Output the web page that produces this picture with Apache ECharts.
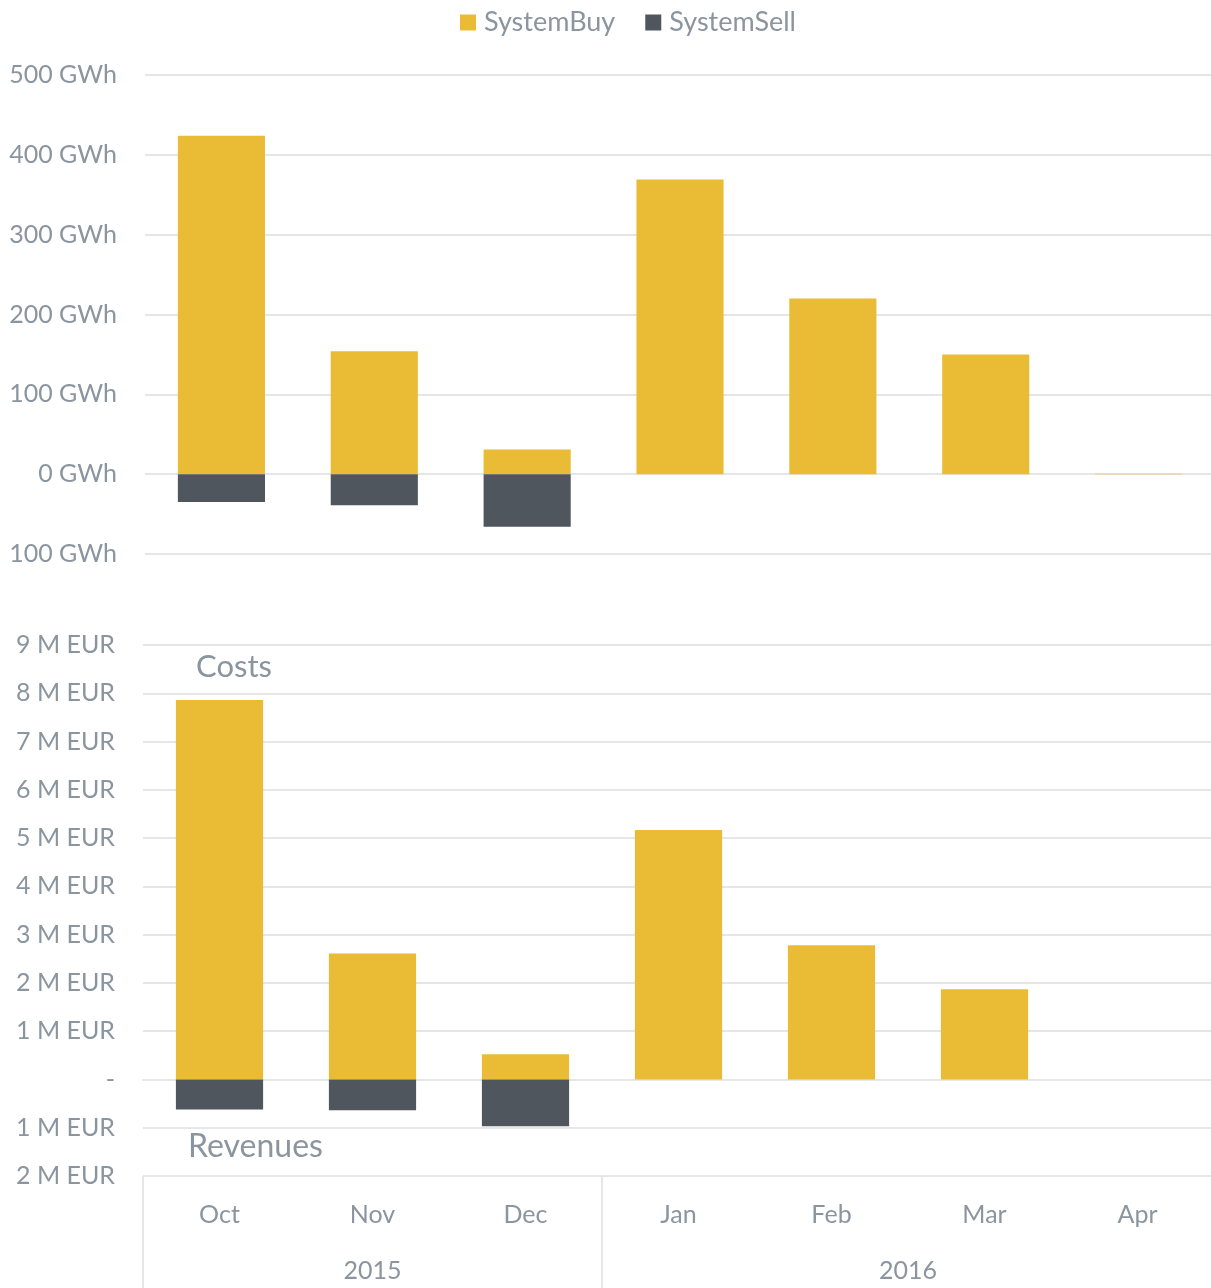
<!DOCTYPE html>
<html>
<head>
<meta charset="utf-8">
<script src="https://cdn.jsdelivr.net/npm/echarts@6/dist/echarts.min.js"></script>
<style>
  html, body { margin: 0; padding: 0; background: #fff; }
  #chart { width: 1211px; height: 1288px; }
</style>
</head>
<body>
<div id="chart"></div>
<script>
// categories
const months = ['Oct', 'Nov', 'Dec', 'Jan', 'Feb', 'Mar', 'Apr'];
const years = ['2015', '2016'];
// energy volumes, GWh
const buyGWh = [424, 154, 31, 369, 220, 150, 0.5];
const sellGWh = [-35, -39, -66, null, null, null, null];
// money, M EUR
const buyEUR = [7.86, 2.61, 0.52, 5.17, 2.78, 1.87, null];
const sellEUR = [-0.62, -0.64, -0.97, null, null, null, null];

const gold = '#EABC36';
const dark = '#4F565E';
const txt = '#8A959F';
const gridCol = '#E4E6E7';
const font = 'Lato';

const chart = echarts.init(document.getElementById('chart'));

const option = {
    backgroundColor: '#fff',
    textStyle: { fontFamily: font },
    animation: false,
    legend: {
        top: 4,
        left: 455,
        itemWidth: 16,
        itemHeight: 16,
        itemGap: 30,
        icon: 'rect',
        textStyle: { color: txt, fontSize: 27, fontFamily: font, padding: [0, 0, 0, 3] },
        data: ['SystemBuy', 'SystemSell']
    },
    grid: [
        { left: 145, width: 1070, top: 75, height: 479, outerBoundsMode: 'none' },
        { left: 143, width: 1071, top: 645, height: 531, outerBoundsMode: 'none' }
    ],
    xAxis: [
        {
            gridIndex: 0, type: 'category', data: months,
            axisLine: { show: false }, axisTick: { show: false }, axisLabel: { show: false }
        },
        {
            gridIndex: 1, type: 'category', data: months, position: 'bottom',
            axisLine: { show: true, lineStyle: { color: gridCol, width: 2 } },
            axisTick: { show: false },
            axisLabel: { color: txt, fontSize: 25, margin: 26 }
        },
        {
            // year grouping under the months
            gridIndex: 1, type: 'value', min: 0, max: 7, position: 'bottom',
            axisLine: { show: false },
            splitLine: { show: false },
            axisTick: { show: true, length: 112, customValues: [0, 3, 7], lineStyle: { color: gridCol, width: 2 } },
            axisLabel: {
                color: txt, fontSize: 25, margin: 82,
                customValues: [1.5, 5],
                formatter: v => (v === 1.5 ? years[0] : v === 5 ? years[1] : '')
            }
        }
    ],
    yAxis: [
        {
            gridIndex: 0, type: 'value', min: -100, max: 500, interval: 100,
            axisLine: { show: false }, axisTick: { show: false },
            splitLine: { lineStyle: { color: gridCol, width: 2 } },
            axisLabel: { color: txt, fontSize: 25, margin: 28, formatter: v => Math.abs(v) + ' GWh' }
        },
        {
            gridIndex: 1, type: 'value', min: -2, max: 9, interval: 1,
            axisLine: { show: false }, axisTick: { show: false },
            splitLine: { lineStyle: { color: gridCol, width: 2 } },
            axisLabel: {
                color: txt, fontSize: 25, margin: 28,
                formatter: v => (v === 0 ? '-' : Math.abs(v) + ' M EUR')
            }
        }
    ],
    graphic: [
        { type: 'text', left: 196, top: 651, style: { text: 'Costs', fill: txt, fontSize: 31, fontFamily: font } },
        { type: 'text', left: 188, top: 1131, style: { text: 'Revenues', fill: txt, fontSize: 32, fontFamily: font } }
    ],
    series: [
        {
            name: 'SystemBuy', type: 'bar', xAxisIndex: 0, yAxisIndex: 0, stack: 'gwh',
            barWidth: '57%', itemStyle: { color: gold }, data: buyGWh
        },
        {
            name: 'SystemSell', type: 'bar', xAxisIndex: 0, yAxisIndex: 0, stack: 'gwh',
            barWidth: '57%', itemStyle: { color: dark }, data: sellGWh
        },
        {
            name: 'SystemBuy', type: 'bar', xAxisIndex: 1, yAxisIndex: 1, stack: 'eur',
            barWidth: '57%', itemStyle: { color: gold }, data: buyEUR
        },
        {
            name: 'SystemSell', type: 'bar', xAxisIndex: 1, yAxisIndex: 1, stack: 'eur',
            barWidth: '57%', itemStyle: { color: dark }, data: sellEUR
        }
    ]
};

chart.setOption(option);
</script>
</body>
</html>
